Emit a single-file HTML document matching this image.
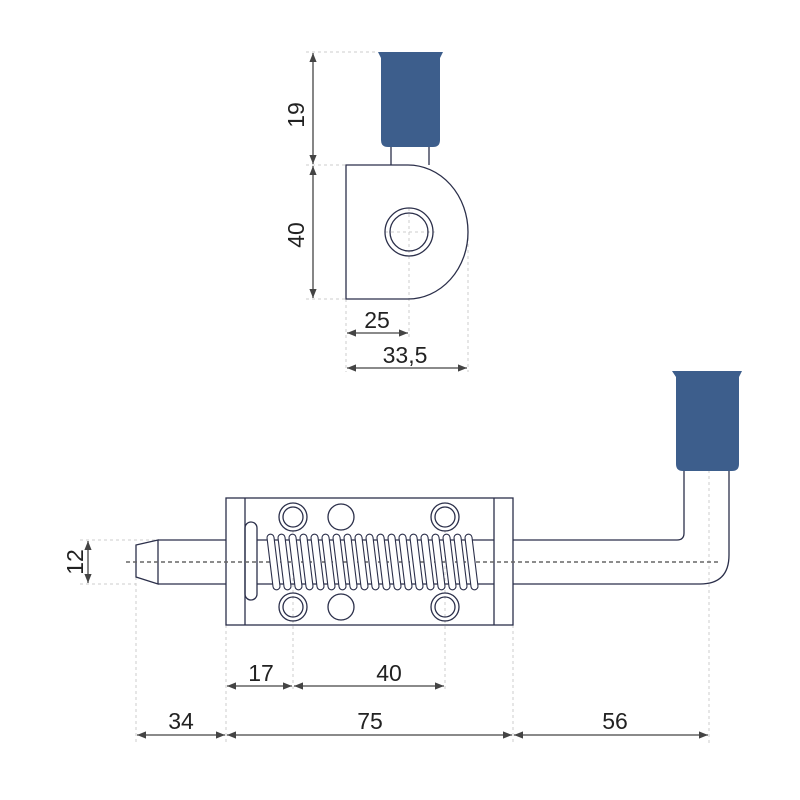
<!DOCTYPE html><html><head><style>body{margin:0;background:#fff}svg{display:block}text{font-family:"Liberation Sans",sans-serif;font-size:23px;fill:#222}</style></head><body>
<svg width="800" height="800" viewBox="0 0 800 800" xmlns="http://www.w3.org/2000/svg">
<defs><marker id="a" viewBox="0 0 10 10" refX="10" refY="5" markerWidth="7" markerHeight="7" orient="auto"><path d="M0,1 L10,5 L0,9z" fill="#444"/></marker></defs>
<g stroke="#ccc" stroke-width="1" stroke-dasharray="3,3" fill="none">
<path d="M306 52H378M306 165H346M306 299H346M346 299V372M409 232V338M468 232V372M385 232H435M409 208V256"/>
<path d="M80 540H158M80 584H136M136 577V745M226 625V745M293 530V690M445 530V690M513 625V745M709 470V745"/>
</g>
<g stroke="#444" stroke-width="1.3" fill="none" marker-end="url(#a)">
<path d="M313 108V53"/><path d="M313 108V164"/>
<path d="M313 232V166"/><path d="M313 232V298"/>
<path d="M378 333H347"/><path d="M378 333H408"/>
<path d="M407 368H347"/><path d="M407 368H467"/>
<path d="M88 562V541"/><path d="M88 562V583"/>
<path d="M260 686H227"/><path d="M260 686H292"/>
<path d="M370 686H294"/><path d="M370 686H444"/>
<path d="M181 735H137"/><path d="M181 735H225"/>
<path d="M370 735H227"/><path d="M370 735H512"/>
<path d="M611 735H514"/><path d="M611 735H708"/>
</g>
<g fill="none" stroke="#2b2f4a" stroke-width="1.3">
<path d="M391 147V165M429 147V165"/>
<path d="M346 165H408A60 67 0 0 1 408 299H346Z"/>
<circle cx="409" cy="232" r="24"/><circle cx="409" cy="232" r="19"/>
<path d="M158 540L136 545V577L158 584ZM158 540H226M158 584H226"/>
<rect x="226" y="498" width="287" height="127"/><path d="M245 498V625M494 498V625"/>
<rect x="245" y="522" width="12" height="78" rx="6"/>
<path d="M257 540H494M257 584H494"/>
<path d="M513 540H677Q684 540 684 533V470M513 584H700Q729 584 729 555V470"/>
<circle cx="293" cy="517" r="14"/><circle cx="293" cy="517" r="10"/>
<circle cx="445" cy="517" r="14"/><circle cx="445" cy="517" r="10"/>
<circle cx="293" cy="607" r="14"/><circle cx="293" cy="607" r="10"/>
<circle cx="445" cy="607" r="14"/><circle cx="445" cy="607" r="10"/>
<circle cx="341" cy="517" r="13"/><circle cx="341" cy="607" r="13"/>
</g>
<path d="M126 562H720" stroke="#666" stroke-width="1.5" stroke-dasharray="4,3"/>
<path d="M378 52H443L440 58V140Q440 147 433 147H388Q381 147 381 140V58Z" fill="#3d5e8c"/>
<path d="M672 371H742L739 377V464Q739 471 732 471H683Q676 471 676 464V377Z" fill="#3d5e8c"/>
<text x="377" y="328" text-anchor="middle">25</text>
<text x="405" y="363" text-anchor="middle">33,5</text>
<text transform="translate(304 115) rotate(-90)" text-anchor="middle">19</text>
<text transform="translate(304 235) rotate(-90)" text-anchor="middle">40</text>
<text transform="translate(83 562) rotate(-90)" text-anchor="middle">12</text>
<text x="261" y="681" text-anchor="middle">17</text>
<text x="389" y="681" text-anchor="middle">40</text>
<text x="181" y="729" text-anchor="middle">34</text>
<text x="370" y="729" text-anchor="middle">75</text>
<text x="615" y="729" text-anchor="middle">56</text>
<g fill="#fff" stroke="#2b2f4a" stroke-width="1.1">
<rect x="270" y="534" width="7" height="56" rx="3.5" transform="rotate(-7 273.5 562)"/>
<rect x="281" y="534" width="7" height="56" rx="3.5" transform="rotate(-7 284.5 562)"/>
<rect x="292" y="534" width="7" height="56" rx="3.5" transform="rotate(-7 295.5 562)"/>
<rect x="303" y="534" width="7" height="56" rx="3.5" transform="rotate(-7 306.5 562)"/>
<rect x="314" y="534" width="7" height="56" rx="3.5" transform="rotate(-7 317.5 562)"/>
<rect x="325" y="534" width="7" height="56" rx="3.5" transform="rotate(-7 328.5 562)"/>
<rect x="336" y="534" width="7" height="56" rx="3.5" transform="rotate(-7 339.5 562)"/>
<rect x="347" y="534" width="7" height="56" rx="3.5" transform="rotate(-7 350.5 562)"/>
<rect x="358" y="534" width="7" height="56" rx="3.5" transform="rotate(-7 361.5 562)"/>
<rect x="369" y="534" width="7" height="56" rx="3.5" transform="rotate(-7 372.5 562)"/>
<rect x="380" y="534" width="7" height="56" rx="3.5" transform="rotate(-7 383.5 562)"/>
<rect x="391" y="534" width="7" height="56" rx="3.5" transform="rotate(-7 394.5 562)"/>
<rect x="402" y="534" width="7" height="56" rx="3.5" transform="rotate(-7 405.5 562)"/>
<rect x="413" y="534" width="7" height="56" rx="3.5" transform="rotate(-7 416.5 562)"/>
<rect x="424" y="534" width="7" height="56" rx="3.5" transform="rotate(-7 427.5 562)"/>
<rect x="435" y="534" width="7" height="56" rx="3.5" transform="rotate(-7 438.5 562)"/>
<rect x="446" y="534" width="7" height="56" rx="3.5" transform="rotate(-7 449.5 562)"/>
<rect x="457" y="534" width="7" height="56" rx="3.5" transform="rotate(-7 460.5 562)"/>
<rect x="468" y="534" width="7" height="56" rx="3.5" transform="rotate(-7 471.5 562)"/>
</g>
</svg></body></html>
